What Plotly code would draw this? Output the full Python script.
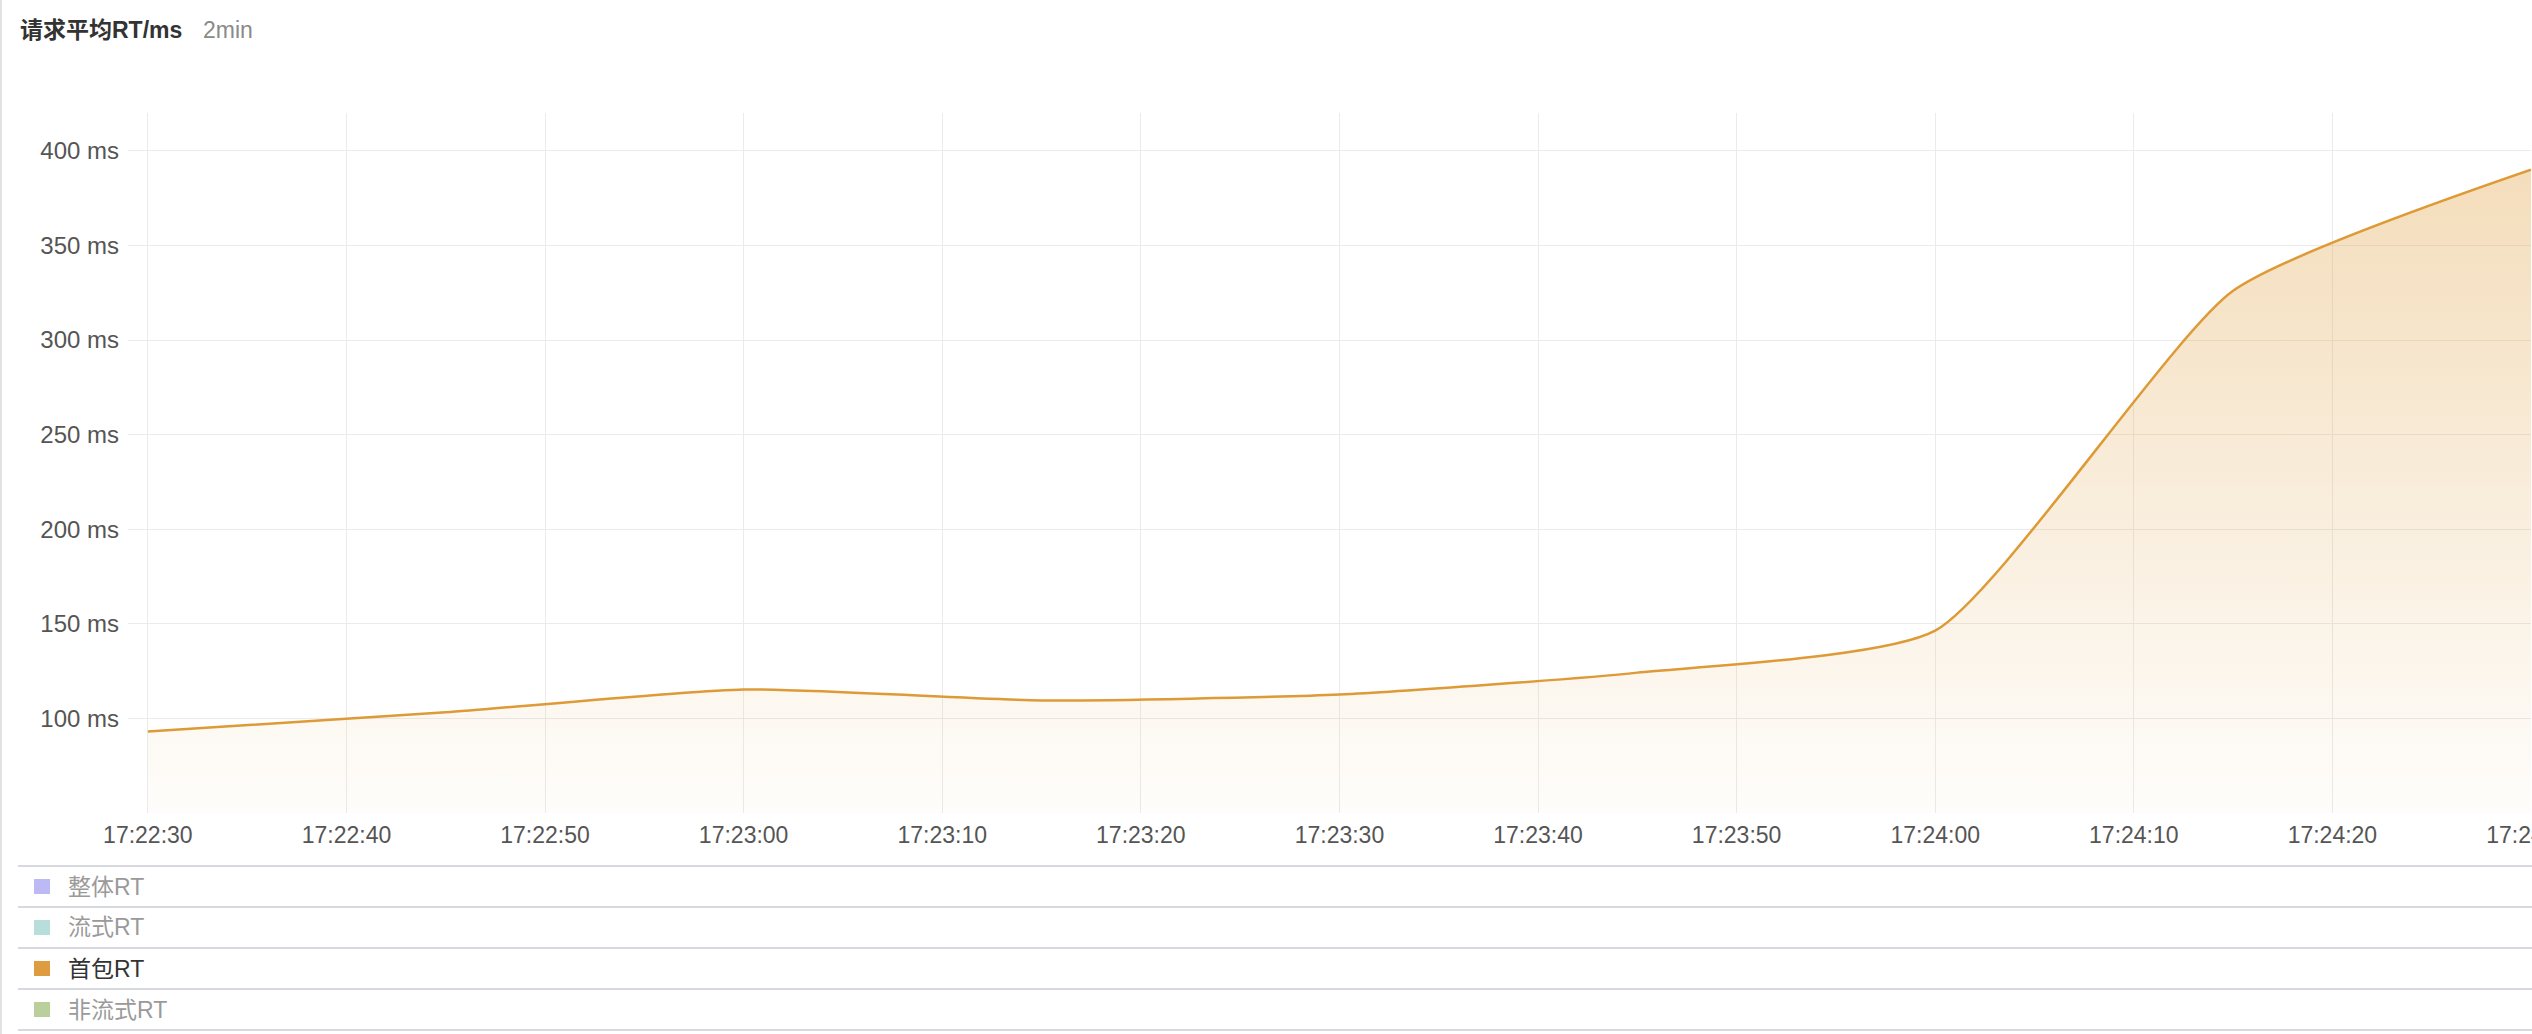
import plotly.graph_objects as go

# ---- data ----
times = ["17:22:30", "17:22:45", "17:23:00", "17:23:15", "17:23:30",
         "17:23:45", "17:24:00", "17:24:15", "17:24:30"]
first_pkg_rt = [93.1, 103.2, 115.3, 109.5, 112.6, 124.2, 146.4, 326.0, 390.0]
series_names = ["整体RT", "流式RT", "首包RT", "非流式RT"]
series_colors = ["#BDB9F4", "#B8DEDC", "#DD9C3F", "#BBCF9D"]
series_active = [False, False, True, False]
y_ticks = [100, 150, 200, 250, 300, 350, 400]
y_tick_text = [f"{v} ms" for v in y_ticks]
title_text = "请求平均RT/ms"
subtitle_text = "2min"

DAY = "2024-01-01 "
x_vals = [DAY + t for t in times]

W, H = 2532, 1034
ML, MR, MT, MB = 128, 1, 113, 221
PW = W - ML - MR
PH = H - MT - MB
FONT = "Liberation Sans, Noto Sans CJK SC, sans-serif"


def px(xp):
    return (xp - ML) / PW


def py(yp):
    return (H - MB - yp) / PH


fig = go.Figure()
fig.add_trace(go.Scatter(
    x=x_vals, y=first_pkg_rt, name="首包RT", mode="lines",
    line=dict(color="#DD9A36", width=2.5, shape="spline", smoothing=0.55),
    fill="tozeroy",
    fillgradient=dict(type="vertical", start=50, stop=390,
                      colorscale=[[0, "rgba(222,155,55,0.02)"],
                                  [1, "rgba(222,155,55,0.34)"]]),
    showlegend=False, hoverinfo="x+y",
))

shapes = []
annotations = []

# left panel border
shapes.append(dict(type="line", xref="paper", yref="paper",
                   x0=px(1), x1=px(1), y0=py(0), y1=py(H),
                   line=dict(color="#E2E2E2", width=2)))

# legend rows
sep_lines = [866, 907, 948, 989, 1030]
for yp in sep_lines:
    shapes.append(dict(type="line", xref="paper", yref="paper",
                       x0=px(18), x1=px(W), y0=py(yp), y1=py(yp),
                       line=dict(color="#D6D9DE", width=2)))
for i, (name, col, act) in enumerate(zip(series_names, series_colors, series_active)):
    cy = (sep_lines[i] + sep_lines[i + 1]) / 2
    shapes.append(dict(type="rect", xref="paper", yref="paper",
                       x0=px(34), x1=px(50), y0=py(cy - 7.5), y1=py(cy + 7.5),
                       fillcolor=col, line=dict(width=0)))
    annotations.append(dict(xref="paper", yref="paper", x=px(66), y=py(cy),
                            xanchor="left", yanchor="middle", showarrow=False,
                            text=name,
                            font=dict(family=FONT, size=23,
                                      color="#333333" if act else "#9A9A9A")))

# title
annotations.append(dict(xref="paper", yref="paper", x=px(18), y=py(30),
                        xanchor="left", yanchor="middle", showarrow=False,
                        text="<b>" + title_text + "</b>",
                        font=dict(family=FONT, size=23, color="#333333")))
annotations.append(dict(xref="paper", yref="paper", x=px(201), y=py(30),
                        xanchor="left", yanchor="middle", showarrow=False,
                        text=subtitle_text,
                        font=dict(family=FONT, size=23, color="#8A8A8A")))

fig.update_layout(
    width=W, height=H,
    margin=dict(l=ML, r=MR, t=MT, b=MB, autoexpand=False),
    paper_bgcolor="white", plot_bgcolor="white",
    font=dict(family=FONT),
    shapes=shapes, annotations=annotations,
    showlegend=False,
    xaxis=dict(
        type="date", automargin=False,
        range=[DAY + "17:22:29", DAY + "17:24:30"],
        tick0=DAY + "17:22:30", dtick=10000, tickformat="%H:%M:%S",
        showgrid=True, gridcolor="#EBEBEB", gridwidth=1,
        zeroline=False, showline=False, ticks="",
        tickfont=dict(family=FONT, size=23, color="#555555"),
        ticklabeloverflow="allow", ticklabelstandoff=6,
    ),
    yaxis=dict(
        automargin=False,
        range=[50, 420], tickmode="array", tickvals=y_ticks, ticktext=y_tick_text,
        showgrid=True, gridcolor="#EBEBEB", gridwidth=1,
        zeroline=False, showline=False, ticks="",
        tickfont=dict(family=FONT, size=24, color="#555555"),
        ticklabelstandoff=8,
    ),
)

fig.write_html(
    "out.html",
    config={"displayModeBar": False},
    post_script="document.body.style.margin='0';document.body.style.overflow='hidden';",
)
